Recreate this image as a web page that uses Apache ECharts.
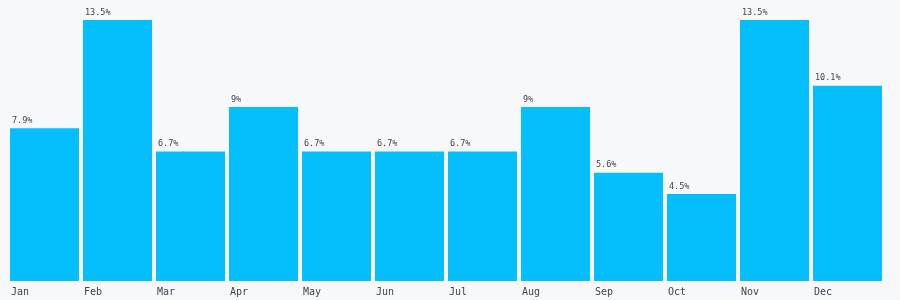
<!DOCTYPE html>
<html><head><meta charset="utf-8">
<script src="https://cdn.jsdelivr.net/npm/echarts@6/dist/echarts.min.js"></script>
<style>html,body{margin:0;padding:0;background:#f7f8fa}#c{width:900px;height:300px}</style>
</head><body><div id="c"></div>
<script>
const months = ['Jan','Feb','Mar','Apr','May','Jun','Jul','Aug','Sep','Oct','Nov','Dec'];
const values = [7.9, 13.5, 6.7, 9, 6.7, 6.7, 6.7, 9, 5.6, 4.5, 13.5, 10.1];
const chart = echarts.init(document.getElementById('c'));
chart.setOption({
  backgroundColor: '#f7f8fa',
  animation: false,
  grid: {left: 8, right: 16, top: 20, bottom: 19},
  xAxis: [
    {type: 'category', data: months, show: false},
    {type: 'value', position: 'bottom', min: 0, max: 12, interval: 1,
     axisLine: {show: false}, axisTick: {show: false}, splitLine: {show: false},
     axisLabel: {formatter: v => months[v] || '', align: 'left', margin: 6, padding: [0,0,0,3],
       fontFamily: 'DejaVu Sans Mono', fontSize: 10, color: '#444'}}
  ],
  yAxis: {type: 'value', min: 0, max: 13.5, show: false},
  series: [{
    type: 'bar', data: values, xAxisIndex: 0, barCategoryGap: '5.5%',
    itemStyle: {color: '#04bffb'},
    label: {show: true, position: [2, -3], verticalAlign: 'bottom', align: 'left',
      formatter: p => p.value + '%', fontFamily: 'DejaVu Sans Mono', fontSize: 8.5, color: '#444'}
  }]
});
</script></body></html>
